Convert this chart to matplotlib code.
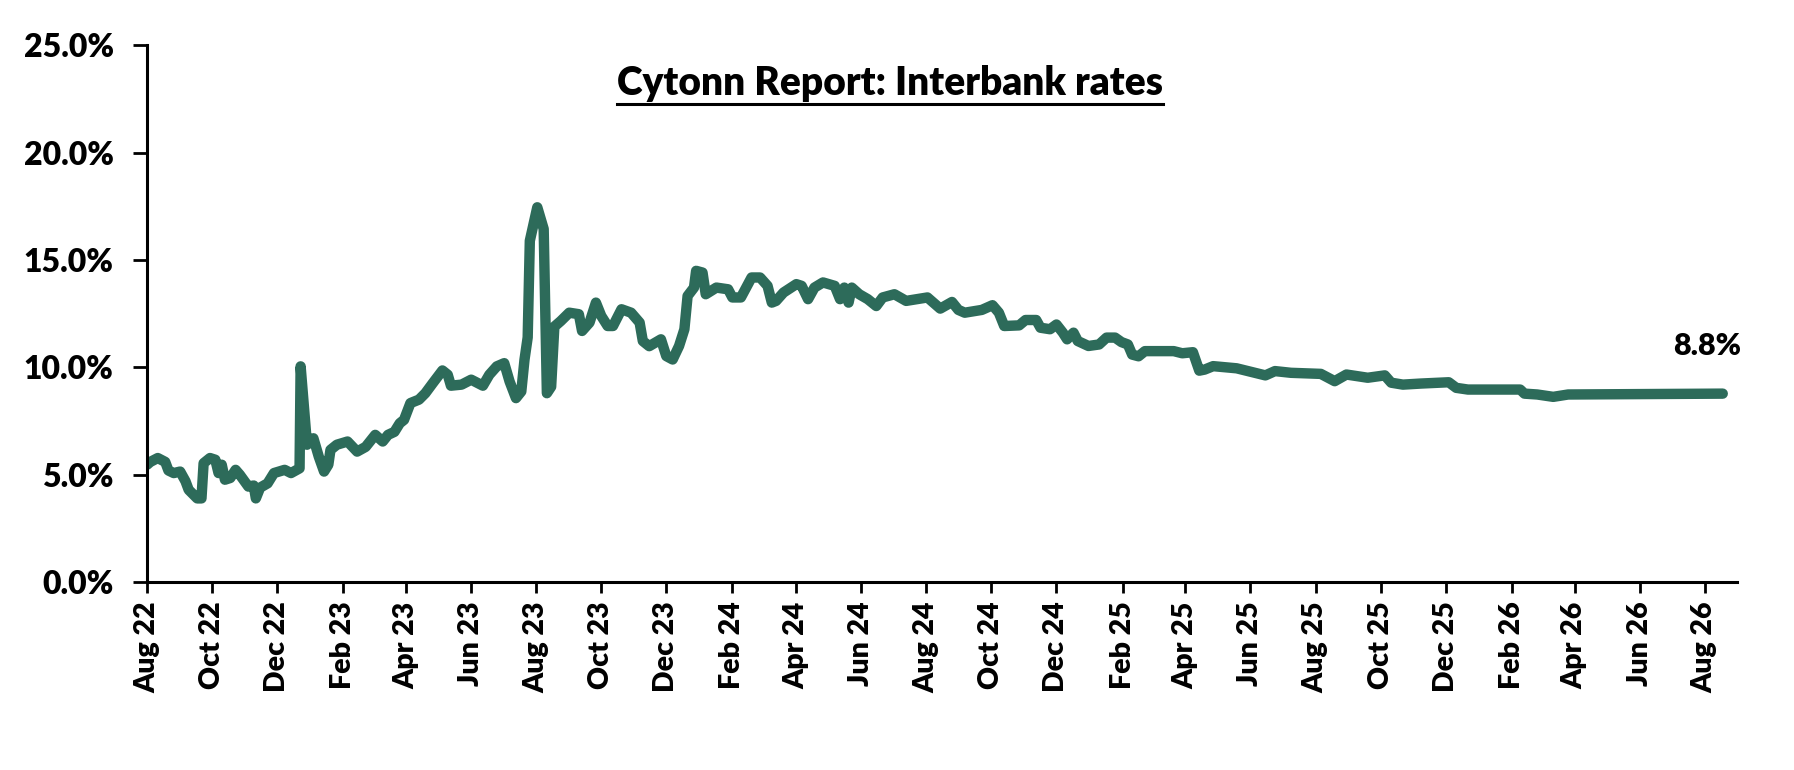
import matplotlib
matplotlib.use('Agg')
import matplotlib.pyplot as plt
import matplotlib.dates as mdates
from matplotlib.lines import Line2D
import pandas as pd

# interbank rate readings (%)
dates = [
    '2022-08-01', '2022-08-04', '2022-08-11', '2022-08-18', '2022-08-21', '2022-08-26',
    '2022-09-01', '2022-09-06', '2022-09-09', '2022-09-17', '2022-09-21', '2022-09-23',
    '2022-09-29', '2022-10-04', '2022-10-07', '2022-10-10', '2022-10-13', '2022-10-18',
    '2022-10-23', '2022-10-27', '2022-11-04', '2022-11-09', '2022-11-11', '2022-11-15',
    '2022-11-22', '2022-11-28', '2022-12-08', '2022-12-14', '2022-12-22', '2022-12-23',
    '2022-12-29', '2023-01-04', '2023-01-09', '2023-01-14', '2023-01-18', '2023-01-20',
    '2023-01-26', '2023-02-05', '2023-02-14', '2023-02-22', '2023-03-03', '2023-03-10',
    '2023-03-15', '2023-03-21', '2023-03-26', '2023-03-30', '2023-04-05', '2023-04-13',
    '2023-04-19', '2023-04-26', '2023-05-05', '2023-05-10', '2023-05-13', '2023-05-23',
    '2023-06-01', '2023-06-12', '2023-06-18', '2023-06-25', '2023-07-02', '2023-07-07',
    '2023-07-13', '2023-07-18', '2023-07-21', '2023-07-24', '2023-07-26', '2023-08-02',
    '2023-08-08', '2023-08-11', '2023-08-15', '2023-08-18', '2023-08-24', '2023-09-01',
    '2023-09-10', '2023-09-13', '2023-09-20', '2023-09-26', '2023-10-01', '2023-10-07',
    '2023-10-12', '2023-10-20', '2023-10-29', '2023-11-06', '2023-11-09', '2023-11-15',
    '2023-11-26', '2023-12-01', '2023-12-07', '2023-12-13', '2023-12-18', '2023-12-21',
    '2023-12-27', '2023-12-29', '2024-01-04', '2024-01-07', '2024-01-17', '2024-01-28',
    '2024-02-01', '2024-02-09', '2024-02-19', '2024-02-27', '2024-03-05', '2024-03-09',
    '2024-03-13', '2024-03-20', '2024-04-01', '2024-04-06', '2024-04-12', '2024-04-18',
    '2024-04-26', '2024-05-07', '2024-05-12', '2024-05-16', '2024-05-20', '2024-05-23',
    '2024-05-30', '2024-06-07', '2024-06-15', '2024-06-21', '2024-07-02', '2024-07-13',
    '2024-08-02', '2024-08-14', '2024-08-25', '2024-08-31', '2024-09-06', '2024-09-22',
    '2024-10-02', '2024-10-08', '2024-10-13', '2024-10-27', '2024-11-02', '2024-11-12',
    '2024-11-16', '2024-11-25', '2024-12-01', '2024-12-07', '2024-12-11', '2024-12-17',
    '2024-12-21', '2024-12-31', '2025-01-10', '2025-01-17', '2025-01-25', '2025-01-31',
    '2025-02-06', '2025-02-10', '2025-02-16', '2025-02-22', '2025-03-21', '2025-03-29',
    '2025-04-08', '2025-04-14', '2025-04-19', '2025-04-27', '2025-05-19', '2025-06-15',
    '2025-06-24', '2025-07-09', '2025-08-06', '2025-08-19', '2025-08-30', '2025-09-19',
    '2025-10-05', '2025-10-11', '2025-10-22', '2025-11-08', '2025-12-04', '2025-12-11',
    '2025-12-22', '2026-02-09', '2026-02-13', '2026-02-25', '2026-03-12', '2026-03-26',
    '2026-08-18',
]
rates = [
    5.47, 5.60, 5.78, 5.60, 5.20, 5.08,
    5.15, 4.70, 4.30, 3.90, 3.90, 5.54,
    5.78, 5.70, 5.08, 5.47, 4.77, 4.85,
    5.23, 5.00, 4.45, 4.50, 3.90, 4.40,
    4.60, 5.08, 5.23, 5.08, 5.30, 10.05,
    6.40, 6.70, 5.85, 5.15, 5.47, 6.16,
    6.40, 6.55, 6.08, 6.30, 6.86, 6.55,
    6.86, 7.00, 7.40, 7.56, 8.34, 8.50,
    8.80, 9.27, 9.86, 9.66, 9.15, 9.20,
    9.43, 9.15, 9.66, 10.05, 10.20, 9.35,
    8.57, 8.88, 10.36, 11.40, 15.90, 17.46,
    16.45, 8.80, 9.10, 11.90, 12.16, 12.55,
    12.48, 11.70, 12.09, 13.02, 12.40, 11.93,
    11.93, 12.71, 12.55, 12.09, 11.23, 10.99,
    11.31, 10.53, 10.37, 11.00, 11.78, 13.33,
    13.72, 14.50, 14.42, 13.41, 13.72, 13.64,
    13.26, 13.26, 14.19, 14.19, 13.80, 13.02,
    13.10, 13.49, 13.88, 13.80, 13.18, 13.72,
    13.96, 13.80, 13.18, 13.72, 13.02, 13.72,
    13.41, 13.18, 12.86, 13.26, 13.41, 13.10,
    13.26, 12.74, 13.05, 12.68, 12.55, 12.68,
    12.90, 12.55, 11.93, 11.96, 12.21, 12.21,
    11.85, 11.78, 12.00, 11.62, 11.31, 11.62,
    11.23, 11.00, 11.07, 11.39, 11.39, 11.18,
    11.07, 10.60, 10.52, 10.76, 10.76, 10.66,
    10.71, 9.85, 9.90, 10.06, 9.96, 9.63,
    9.83, 9.75, 9.70, 9.36, 9.67, 9.52,
    9.63, 9.29, 9.20, 9.25, 9.31, 9.05,
    8.97, 8.97, 8.78, 8.74, 8.63, 8.74,
    8.78,
]

title = 'Cytonn Report: Interbank rates'
line_color = '#2d6b5a'

plt.rcParams['font.family'] = ['Lato', 'DejaVu Sans']
plt.rcParams['font.weight'] = 'bold'

x = pd.to_datetime(dates)

fig = plt.figure(figsize=(17.94, 7.70), dpi=100)
ax = fig.add_axes([0.082, 0.244, 0.886, 0.697])

ax.plot(x, rates, color=line_color, lw=7.5, solid_capstyle='round', solid_joinstyle='round')

ax.set_ylim(0, 25)
ax.set_yticks([0, 5, 10, 15, 20, 25])
ax.yaxis.set_major_formatter(plt.FuncFormatter(lambda v, p: f'{v:.1f}%'))
ax.set_xlim(pd.Timestamp('2022-08-01'), pd.Timestamp('2026-08-31'))
ax.xaxis.set_major_locator(mdates.MonthLocator(bymonth=[2, 4, 6, 8, 10, 12]))
ax.xaxis.set_major_formatter(mdates.DateFormatter('%b %y'))

for s in ['top', 'right']:
    ax.spines[s].set_visible(False)
for s in ['left', 'bottom']:
    ax.spines[s].set_linewidth(2.2)

ax.tick_params(axis='y', direction='out', length=10, width=2, pad=14, labelsize=23)
ax.tick_params(axis='x', direction='out', length=8, width=2, pad=6, labelsize=20.5,
               labelrotation=90)
for lab in ax.get_xticklabels() + ax.get_yticklabels():
    lab.set_fontweight('heavy')

# last value label
ax.annotate(f'{rates[-1]:.1f}%', xy=(x[-1], rates[-1]), xytext=(-16, 48),
            textcoords='offset pixels', ha='center', va='center',
            fontsize=22, fontweight='heavy')

t = fig.text(0.496, 0.892, title, ha='center', va='center', fontsize=28, fontweight='heavy')
fig.canvas.draw()
bb = t.get_window_extent().transformed(fig.transFigure.inverted())
fig.add_artist(Line2D([bb.x0, bb.x1], [bb.y0 - 0.003, bb.y0 - 0.003],
                      transform=fig.transFigure, color='black', lw=2.2))

fig.savefig('out.png', dpi=100, facecolor='white')
